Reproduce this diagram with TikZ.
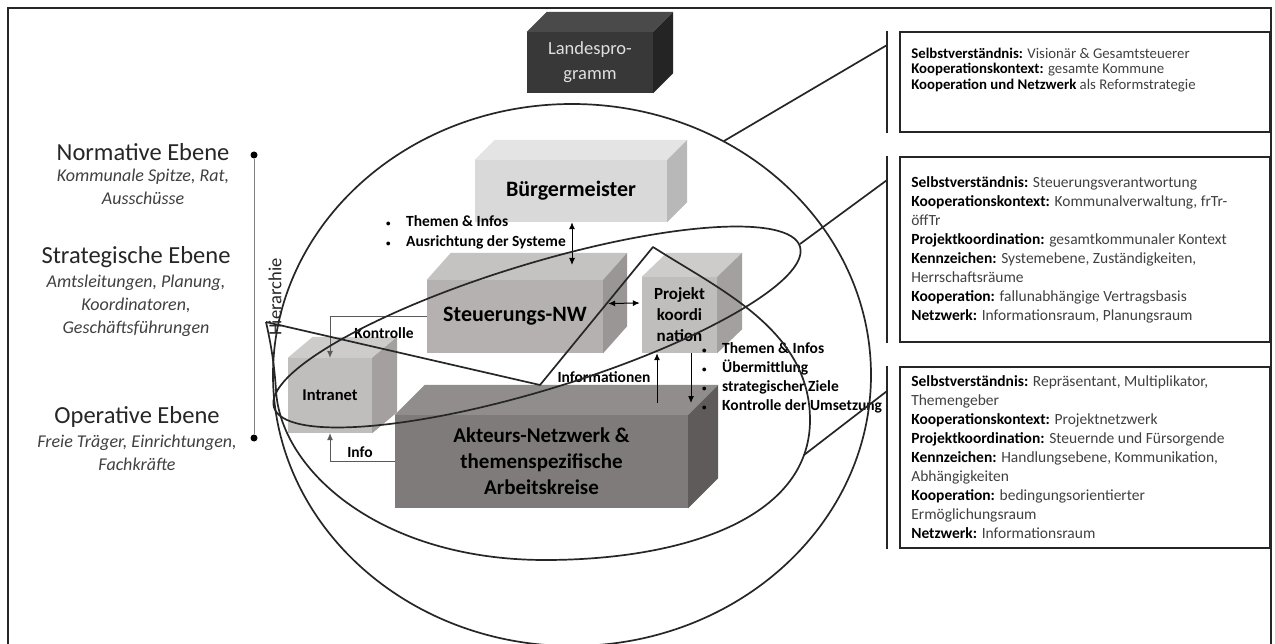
\documentclass[tikz,border=0pt]{standalone}
\usepackage{fontspec}
\setmainfont{Carlito}
\usetikzlibrary{positioning}
\usetikzlibrary{arrows.meta}
\definecolor{zonegray}{HTML}{262626}
\definecolor{textgray}{HTML}{404040}
\definecolor{landesfront}{HTML}{383838}
\definecolor{landestop}{HTML}{4a4a4a}
\definecolor{landesside}{HTML}{242424}
\definecolor{buergerfront}{HTML}{d9d9d9}
\definecolor{buergertop}{HTML}{e4e4e4}
\definecolor{buergerside}{HTML}{b8b8b8}
\definecolor{steuerfront}{HTML}{b5b1b1}
\definecolor{steuertop}{HTML}{c5c2c2}
\definecolor{steuerside}{HTML}{9a9696}
\definecolor{akteurfront}{HTML}{7f7b7b}
\definecolor{akteurtop}{HTML}{918d8d}
\definecolor{akteurside}{HTML}{5f5b5b}
\tikzstyle{cube}=[inner sep=0pt, align=center]
\tikzstyle{zone}=[draw=zonegray, line width=1.7pt]
\tikzstyle{flow}=[black, line width=1pt]
\tikzstyle{elbow}=[draw=gray!70!black, line width=0.8pt]
\tikzstyle{flowlabel}=[inner sep=1pt, font=\fontsize{15.5}{19}\selectfont\bfseries]
\tikzstyle{bullets}=[align=left, inner sep=0pt, font=\fontsize{15.5}{20}\selectfont\bfseries]
\tikzstyle{infobox}=[draw=zonegray, line width=1.8pt, minimum width=370, inner sep=0pt]
\tikzstyle{infotext}=[align=left, inner sep=0pt, text=textgray, font=\fontsize{15.5}{19}\selectfont]
\tikzstyle{ebene}=[align=center, inner sep=0pt, text=zonegray, font=\fontsize{24.5}{28}\selectfont]
\tikzstyle{ebenesub}=[align=center, inner sep=0pt, text=textgray, font=\fontsize{18}{23}\selectfont\itshape]
\tikzstyle{hierdot}=[circle, fill=black, inner sep=0pt, minimum size=7pt]
\newcommand{\cubesides}[5]{%
  \fill[#4] (#1.north west) -- ([shift={(#2,-#3)}]#1.north west) -- ([shift={(#2,-#3)}]#1.north east) -- (#1.north east) -- cycle;
  \fill[#5] (#1.north east) -- ([shift={(#2,-#3)}]#1.north east) -- ([shift={(#2,-#3)}]#1.south east) -- (#1.south east) -- cycle;}
\newcommand{\stichwort}[1]{\textbf{\textcolor{black}{#1}}}
\newcommand{\punkt}{\makebox[20pt][l]{\fontsize{9}{9}\selectfont\textbullet}}
\begin{document}
\begin{tikzpicture}[x=1pt, y=-1pt, >={Latex[length=7pt,width=6pt]}]
\useasboundingbox (0,0) rectangle (1275,644);
\fill[white] (0,0) rectangle (1275,644);
\draw[draw=zonegray, line width=2.5pt] (8,8) rectangle (1271,652);

% ebenen links
\node[ebene] (normativ) at (143,152) {Normative Ebene};
\node[ebenesub, anchor=north] (normativsub) at (143,169) {Kommunale Spitze, Rat,\\Ausschüsse};
\node[ebene] (strategisch) at (136,257) {Strategische Ebene};
\node[ebenesub, anchor=north] (strategischsub) at (136,275) {Amtsleitungen, Planung,\\Koordinatoren,\\Geschäftsführungen};
\node[ebene] (operativ) at (137,417) {Operative Ebene};
\node[ebenesub, anchor=north] (operativsub) at (137,435) {Freie Träger, Einrichtungen,\\Fachkräfte};
\node[hierdot] (hiertop) at (254,155) {};
\node[hierdot] (hierbot) at (254,438) {};
\draw[gray, line width=0.9pt] (hiertop) -- (hierbot);
\node[rotate=90, inner sep=0pt, text=zonegray, font=\fontsize{18.5}{20}\selectfont] (hierarchie) at (275,297) {Hierarchie};

% bloecke
\node[cube, fill=landesfront, text=white!88!black, minimum width=126, minimum height=61, font=\fontsize{18.5}{25}\selectfont] (landes) at (590,62.5) {Landespro-\\gramm};
\cubesides{landes}{20}{20}{landestop}{landesside}
\node[cube, fill=buergerfront, minimum width=192, minimum height=62, font=\fontsize{22}{26}\selectfont\bfseries] (buerger) at (571,191) {Bürgermeister};
\cubesides{buerger}{20}{20}{buergertop}{buergerside}
\node[cube, fill=steuerfront, minimum width=176, minimum height=73, font=\fontsize{22}{26}\selectfont\bfseries] (steuer) at (515,316.5) {Steuerungs-NW};
\cubesides{steuer}{24}{27}{steuertop}{steuerside}
\node[cube, fill=steuerfront!85!white, minimum width=75, minimum height=76, font=\fontsize{17}{21}\selectfont\bfseries] (proj) at (679.5,315) {Projekt\\koordi\\nation};
\cubesides{proj}{25}{24}{steuertop!85!white}{steuerside!90!white}
\node[cube, fill=steuerfront!85!white, minimum width=84, minimum height=75, font=\fontsize{16.5}{20}\selectfont\bfseries] (intra) at (330,395.5) {Intranet};
\cubesides{intra}{25}{21}{steuertop!85!white}{steuerside!90!white}
\node[cube, fill=akteurfront, minimum width=293, minimum height=93, font=\fontsize{21}{26}\selectfont\bfseries] (akteur) at (541.5,461.5) {Akteurs-Netzwerk \&\\themenspezifische\\Arbeitskreise};
\cubesides{akteur}{30}{30}{akteurtop}{akteurside}

% pfeile
\coordinate (steuertop) at (572,265);
\draw[flow, <->] (buerger.south -| steuertop) -- (steuertop);
\draw[flow, <->] ([shift={(5,-13)}]steuer.east) -- ([shift={(-2,-12)}]proj.west);
\draw[elbow, ->] (steuer.west) -| (intra.north);
\draw[elbow, ->] (akteur.west) -| (intra.south);
\coordinate (infobase) at (657,403);
\draw[flow, ->] (infobase) -- (infobase |- proj.south);
\coordinate (zielbase) at (691,403);
\draw[flow, <-] (zielbase) -- (zielbase |- proj.south);
\node[flowlabel] (kontrolle) at (384,333) {Kontrolle};
\node[flowlabel] (info) at (360,452) {Info};
\node[flowlabel] (informationen) at (604,377) {Informationen};
\node[bullets, anchor=west] (themenoben) at (386,232.7) {\punkt Themen \& Infos\\\punkt Ausrichtung der Systeme};
\node[bullets, anchor=west, font=\fontsize{15.5}{19}\selectfont\bfseries] (themenunten) at (702,377.5) {\punkt Themen \& Infos\\\punkt Übermittlung\\\punkt strategischer Ziele\\\punkt Kontrolle der Umsetzung};

% zonen
\draw[zone] (572,375) ellipse [x radius=299pt, y radius=271pt];
\draw[zone, rotate around={17:(537,327)}] (537,327) ellipse [x radius=275pt, y radius=63pt];
\draw[zone, line join=round] (266,322) -- (540,385) -- (653,247) .. controls (720,290) and (810,330) .. (810,420) .. controls (810,520) and (680,560) .. (545,560) .. controls (380,560) and (280,470) .. (276,390) .. controls (274,360) and (270,340) .. (266,322);

% kaesten rechts
\node[infobox, minimum height=100] (box1) at (1085,82) {};
\node[infobox, minimum height=185] (box2) at (1085,249.5) {};
\node[infobox, minimum height=181] (box3) at (1085,457.5) {};
\draw[zone] ([shift={(-12,0)}]box1.north west) -- ([shift={(-12,0)}]box1.south west);
\draw[zone] ([shift={(-12,0)}]box2.north west) -- ([shift={(-12,0)}]box2.south west);
\draw[zone] ([shift={(-12,0)}]box3.north west) -- ([shift={(-12,0)}]box3.south west);
\node[infotext, anchor=west, font=\fontsize{14.8}{15.5}\selectfont] (text1) at ([shift={(12,-12)}]box1.west) {\stichwort{Selbstverständnis:} Visionär \& Gesamtsteuerer\\\stichwort{Kooperationskontext:} gesamte Kommune\\\stichwort{Kooperation und Netzwerk} als Reformstrategie};
\node[infotext, anchor=west] (text2) at ([shift={(12,0)}]box2.west) {\stichwort{Selbstverständnis:} Steuerungsverantwortung\\\stichwort{Kooperationskontext:} Kommunalverwaltung, frTr-\\öffTr\\\stichwort{Projektkoordination:} gesamtkommunaler Kontext\\\stichwort{Kennzeichen:} Systemebene, Zuständigkeiten,\\Herrschaftsräume\\\stichwort{Kooperation:} fallunabhängige Vertragsbasis\\\stichwort{Netzwerk:} Informationsraum, Planungsraum};
\node[infotext, anchor=west] (text3) at ([shift={(12,0)}]box3.west) {\stichwort{Selbstverständnis:} Repräsentant, Multiplikator,\\Themengeber\\\stichwort{Kooperationskontext:} Projektnetzwerk\\\stichwort{Projektkoordination:} Steuernde und Fürsorgende\\\stichwort{Kennzeichen:} Handlungsebene, Kommunikation,\\Abhängigkeiten\\\stichwort{Kooperation:} bedingungsorientierter\\Ermöglichungsraum\\\stichwort{Netzwerk:} Informationsraum};

% verbindungen
\coordinate (kommune) at (724,141);
\coordinate (strategie) at (800,244);
\coordinate (operativpkt) at (804,455);
\draw[zone] (kommune) -- ([shift={(-12,-37)}]box1.west);
\draw[zone] (strategie) -- ([shift={(-12,-69.5)}]box2.west);
\draw[zone] (operativpkt) -- ([shift={(-12,-66.5)}]box3.west);
\end{tikzpicture}
\end{document}
